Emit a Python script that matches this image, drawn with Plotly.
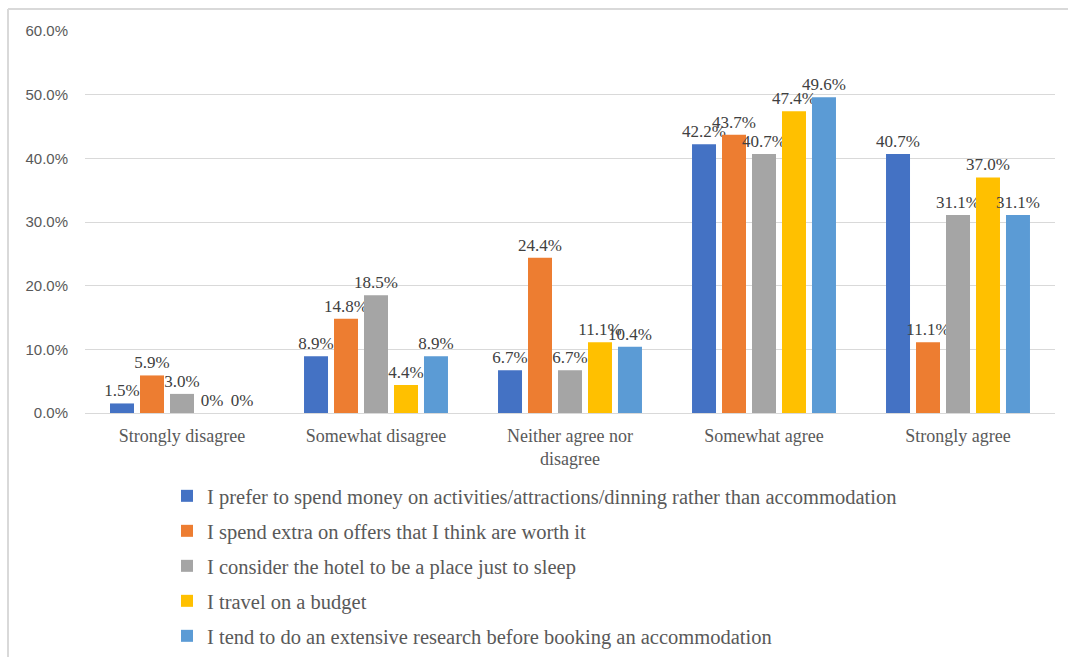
import plotly.graph_objects as go

# Survey answer categories (x axis)
categories = [
    "Strongly disagree",
    "Somewhat disagree",
    "Neither agree nor<br>disagree",
    "Somewhat agree",
    "Strongly agree",
]

# Statements (one bar series each)
statements = [
    "I prefer to spend money on activities/attractions/dinning rather than accommodation",
    "I spend extra on offers that I think are worth it",
    "I consider the hotel to be a place just to sleep",
    "I travel on a budget",
    "I tend to do an extensive research before booking an accommodation",
]

# Share of respondents (%) per statement and category
prefer_activities = [1.5, 8.9, 6.7, 42.2, 40.7]
spend_extra = [5.9, 14.8, 24.4, 43.7, 11.1]
hotel_to_sleep = [3.0, 18.5, 6.7, 40.7, 31.1]
travel_budget = [0.0, 4.4, 11.1, 47.4, 37.0]
extensive_research = [0.0, 8.9, 10.4, 49.6, 31.1]

series_values = [prefer_activities, spend_extra, hotel_to_sleep, travel_budget, extensive_research]
colors = ["#4472C4", "#ED7D31", "#A5A5A5", "#FFC000", "#5B9BD5"]

y_ticks = [0, 10, 20, 30, 40, 50, 60]


def pct_label(v):
    return "0%" if v == 0 else f"{v:.1f}%"


W, H = 1068, 657
ml, mr, mt, mb = 85, 13, 31, 244
pw, ph = W - ml - mr, H - mt - mb


def px_x(x):
    return (x - ml) / pw


def px_y(y):
    return (H - mb - y) / ph


# one single-entry legend per series, stacked below the plot
legend_ids = ["legend", "legend2", "legend3", "legend4", "legend5"]
legend_rows = [496, 531, 566, 601, 636]

fig = go.Figure()
for name, vals, col, lid in zip(statements, series_values, colors, legend_ids):
    fig.add_trace(go.Bar(
        x=categories,
        y=vals,
        name=name,
        legend=lid,
        marker=dict(color=col, line=dict(width=0)),
        text=[pct_label(v) for v in vals],
        textposition="outside",
        constraintext="none",
        cliponaxis=False,
        textfont=dict(family="Liberation Serif", size=17, color="#404040"),
        hoverinfo="skip",
    ))

legend_layout = {}
for lid, row in zip(legend_ids, legend_rows):
    legend_layout[lid] = dict(
        orientation="v",
        x=px_x(167),
        xanchor="left",
        y=px_y(row),
        yanchor="middle",
        font=dict(family="Liberation Serif", size=20.5, color="#595959"),
        bgcolor="rgba(0,0,0,0)",
    )

fig.update_layout(
    width=W,
    height=H,
    margin=dict(l=ml, r=mr, t=mt, b=mb, autoexpand=False),
    paper_bgcolor="white",
    plot_bgcolor="white",
    barmode="group",
    bargap=0.227,
    bargroupgap=0.2,
    showlegend=True,
    xaxis=dict(
        showgrid=False,
        showline=True,
        linecolor="#d9d9d9",
        linewidth=1,
        ticks="",
        ticklabelstandoff=6,
        tickfont=dict(family="Liberation Serif", size=18, color="#595959"),
        fixedrange=True,
    ),
    yaxis=dict(
        range=[0, 60],
        tickvals=y_ticks,
        ticktext=[f"{t:.1f}%" for t in y_ticks],
        showgrid=True,
        gridcolor="#d9d9d9",
        gridwidth=1,
        zeroline=False,
        showline=False,
        ticks="",
        ticklabelstandoff=16,
        tickfont=dict(family="Liberation Sans", size=15, color="#595959"),
        fixedrange=True,
    ),
    shapes=[
        dict(type="line", xref="paper", yref="paper",
             x0=px_x(8), x1=px_x(8), y0=px_y(9), y1=px_y(H + 20),
             line=dict(color="#d9d9d9", width=2)),
        dict(type="line", xref="paper", yref="paper",
             x0=px_x(8), x1=px_x(W + 20), y0=px_y(9), y1=px_y(9),
             line=dict(color="#d9d9d9", width=2)),
    ],
    **legend_layout,
)

fig.write_html("out.html")
